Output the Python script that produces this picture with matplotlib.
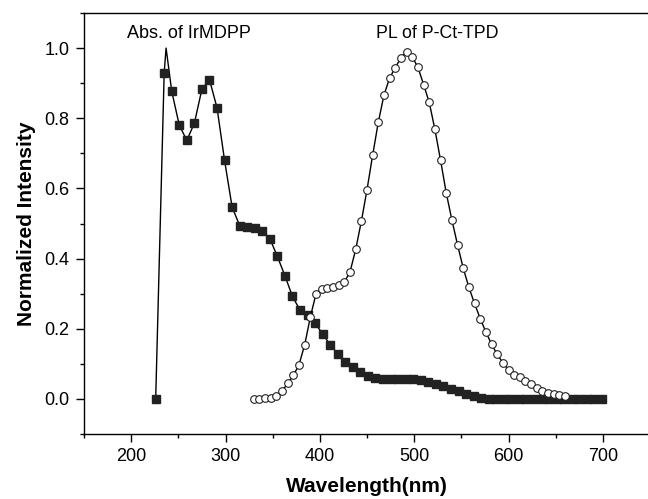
import matplotlib
matplotlib.use("Agg")
import matplotlib.pyplot as plt
from matplotlib.ticker import MultipleLocator

plt.rcParams['font.family'] = ['Liberation Sans', 'DejaVu Sans']

# absorption of IrMDPP (squares)
abs_wl = [226, 235, 243, 251, 259, 267, 275, 283, 291, 299, 307, 315, 323, 331, 339, 347,
          355, 363, 371, 379, 387, 395, 403, 411, 419, 427, 435, 443, 451, 459, 467, 475,
          483, 491, 499, 507, 515, 523, 531, 539, 547, 555, 563, 571, 579, 587, 595, 603,
          611, 619, 627, 635, 643, 651, 659, 667, 675, 683, 691, 699]
abs_val = [0.0, 0.93, 0.877, 0.78, 0.737, 0.786, 0.883, 0.91, 0.83, 0.68, 0.547, 0.494,
           0.49, 0.487, 0.48, 0.457, 0.406, 0.351, 0.292, 0.253, 0.24, 0.216, 0.185, 0.154,
           0.129, 0.106, 0.092, 0.078, 0.066, 0.060, 0.058, 0.057, 0.057, 0.057, 0.056,
           0.053, 0.049, 0.043, 0.036, 0.029, 0.022, 0.014, 0.007, 0.002, 0.0, 0.0, 0.0,
           0.0, 0.0, 0.0, 0.0, 0.0, 0.0, 0.0, 0.0, 0.0, 0.0, 0.0, 0.0, 0.0]
# the fitted line reaches its maximum between the first two squares
abs_peak_wl = 237
abs_peak_val = 1.0

# PL of P-Ct-TPD (open circles)
pl_wl = list(range(330, 661, 6))
pl_val = [0.0, 0.0, 0.002, 0.003, 0.008, 0.022, 0.045, 0.067, 0.098, 0.155, 0.234, 0.300,
          0.313, 0.315, 0.318, 0.325, 0.333, 0.362, 0.426, 0.506, 0.596, 0.695, 0.789,
          0.866, 0.915, 0.944, 0.973, 0.990, 0.975, 0.945, 0.896, 0.845, 0.768, 0.680,
          0.587, 0.510, 0.439, 0.373, 0.318, 0.272, 0.229, 0.191, 0.156, 0.127, 0.103,
          0.083, 0.069, 0.063, 0.051, 0.042, 0.031, 0.023, 0.018, 0.015, 0.011, 0.007]

fig = plt.figure(figsize=(6.48, 4.99), dpi=100)
ax = fig.add_axes([84 / 648, 65 / 499, 566 / 648, 421 / 499])

line_wl = abs_wl[:2] + [abs_peak_wl] + abs_wl[2:]
line_val = abs_val[:2] + [abs_peak_val] + abs_val[2:]
ax.plot(line_wl, line_val, color="black", lw=1.0, zorder=2)
ax.plot(abs_wl, abs_val, ls="none", marker="s", ms=6, color="#222222", zorder=3)

ax.plot(pl_wl, pl_val, color="black", lw=1.0, marker="o", ms=5.5,
        mfc="white", mec="#222222", mew=0.8, zorder=4)

ax.set_xlim(150, 750)
ax.set_ylim(-0.1, 1.1)
ax.xaxis.set_major_locator(MultipleLocator(100))
ax.xaxis.set_minor_locator(MultipleLocator(50))
ax.yaxis.set_minor_locator(MultipleLocator(0.1))
ax.set_yticks([0.0, 0.2, 0.4, 0.6, 0.8, 1.0])
ax.set_yticklabels(["0.0", "0.2", "0.4", "0.6", "0.8", "1.0"])
ax.tick_params(which="major", direction="out", length=5.5, width=1, labelsize=13)
ax.tick_params(which="minor", direction="out", length=3, width=1)
ax.tick_params(axis="x", which="major", pad=4.5)
ax.tick_params(axis="y", which="major", pad=5)
for s in ax.spines.values():
    s.set_linewidth(1.0)
ax.spines["right"].set_visible(False)

ax.set_xlabel("Wavelength(nm)", fontsize=15, fontweight="bold", labelpad=8.5)
ax.set_ylabel("Normalized Intensity", fontsize=15, fontweight="bold", labelpad=6)

ax.text(196, 1.029, "Abs. of IrMDPP", fontsize=13, va="baseline")
ax.text(460, 1.029, "PL of P-Ct-TPD", fontsize=12.8, va="baseline")

fig.savefig("out.png", dpi=100)
